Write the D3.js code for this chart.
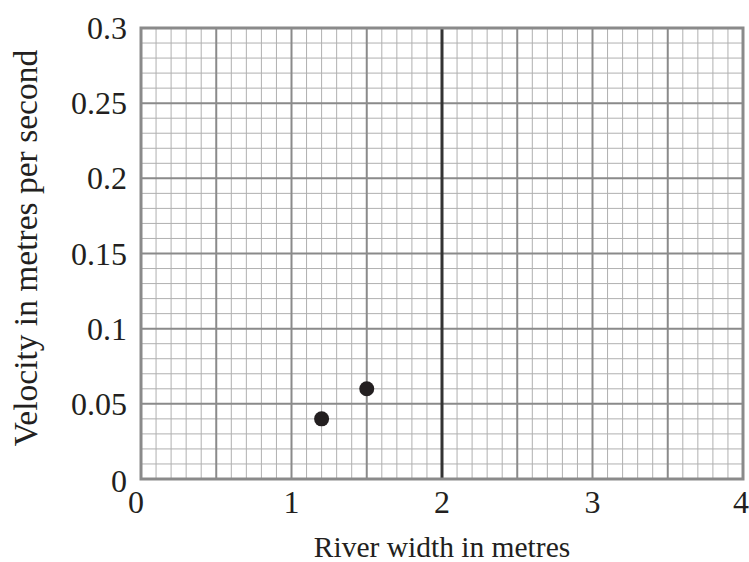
<!DOCTYPE html>
<html lang="en">
<head>
  <meta charset="UTF-8">
  <title>River width vs velocity</title>
  <script src="https://d3js.org/d3.v7.min.js"></script>
  <style>
    body { margin: 0; background: #fff; }
    svg { display: block; }
  </style>
</head>
<body>
  <svg id="chart" width="749" height="562"></svg>
  <script>
    // data
    const widths = [1.2, 1.5];          // river width in metres
    const velocities = [0.04, 0.06];    // velocity in m/s
    const xTicks = [0, 1, 2, 3, 4];
    const yTicks = [0, 0.05, 0.1, 0.15, 0.2, 0.25, 0.3];

    const FONT = "'Liberation Serif', 'Times New Roman', Times, serif";

    const margin = { top: 28, right: 6, bottom: 83, left: 141 };
    const width = 749 - margin.left - margin.right;
    const height = 562 - margin.top - margin.bottom;

    const svg = d3.select("#chart")
      .append("g")
      .attr("transform", `translate(${margin.left},${margin.top})`);

    const x = d3.scaleLinear().domain([0, 4]).range([0, width]);
    const y = d3.scaleLinear().domain([0, 0.3]).range([height, 0]);

    // minor grid: 0.1 in x, 0.01 in y
    const xMinor = d3.range(0, 41).map(i => i / 10);
    const yMinor = d3.range(0, 31).map(i => i / 100);

    const grid = svg.append("g");

    grid.selectAll(".vminor")
      .data(xMinor.filter((d, i) => i % 5 !== 0))
      .enter().append("line")
      .attr("x1", d => x(d)).attr("x2", d => x(d))
      .attr("y1", 0).attr("y2", height)
      .attr("stroke", "#b0b0b0").attr("stroke-width", 1);

    grid.selectAll(".hminor")
      .data(yMinor.filter((d, i) => i % 5 !== 0))
      .enter().append("line")
      .attr("y1", d => y(d)).attr("y2", d => y(d))
      .attr("x1", 0).attr("x2", width)
      .attr("stroke", "#b0b0b0").attr("stroke-width", 1);

    // medium grid every 0.5 / 0.05
    grid.selectAll(".vmajor")
      .data(xMinor.filter((d, i) => i % 5 === 0 && i !== 20))
      .enter().append("line")
      .attr("x1", d => x(d)).attr("x2", d => x(d))
      .attr("y1", 0).attr("y2", height)
      .attr("stroke", "#8a8a8a").attr("stroke-width", 2);

    grid.selectAll(".hmajor")
      .data(yMinor.filter((d, i) => i % 5 === 0))
      .enter().append("line")
      .attr("y1", d => y(d)).attr("y2", d => y(d))
      .attr("x1", 0).attr("x2", width)
      .attr("stroke", "#8a8a8a").attr("stroke-width", 2);

    // dark line at x = 2
    grid.append("line")
      .attr("x1", x(2)).attr("x2", x(2))
      .attr("y1", 0).attr("y2", height)
      .attr("stroke", "#333").attr("stroke-width", 3);

    // border
    svg.append("rect")
      .attr("x", 0).attr("y", 0)
      .attr("width", width).attr("height", height)
      .attr("fill", "none")
      .attr("stroke", "#8a8a8a").attr("stroke-width", 3);

    // x tick labels
    svg.append("g").selectAll("text")
      .data(xTicks)
      .enter().append("text")
      .attr("x", d => x(d) + (d === 0 ? -5 : d === 4 ? -2 : 0))
      .attr("y", height + 34)
      .attr("text-anchor", "middle")
      .style("font-family", FONT)
      .style("font-size", "32px")
      .style("fill", "#231f20")
      .text(d => d);

    // y tick labels
    svg.append("g").selectAll("text")
      .data(yTicks)
      .enter().append("text")
      .attr("x", -14)
      .attr("y", d => y(d) + (d === 0 ? 13 : 11))
      .attr("text-anchor", "end")
      .style("font-family", FONT)
      .style("font-size", "32px")
      .style("fill", "#231f20")
      .text(d => d);

    // points
    svg.selectAll(".dot")
      .data(widths.map((w, i) => ({ w: w, v: velocities[i] })))
      .enter().append("circle")
      .attr("cx", d => x(d.w))
      .attr("cy", d => y(d.v))
      .attr("r", 7.5)
      .attr("fill", "#231f20");

    // axis titles
    svg.append("text")
      .attr("x", width / 2)
      .attr("y", height + 78)
      .attr("text-anchor", "middle")
      .style("font-family", FONT)
      .style("font-size", "29.5px")
      .style("fill", "#231f20")
      .text("River width in metres");

    svg.append("text")
      .attr("transform", `translate(-104,220) rotate(-90)`)
      .attr("text-anchor", "middle")
      .style("font-family", FONT)
      .style("font-size", "33.5px")
      .style("fill", "#231f20")
      .text("Velocity in metres per second");
  </script>
</body>
</html>
